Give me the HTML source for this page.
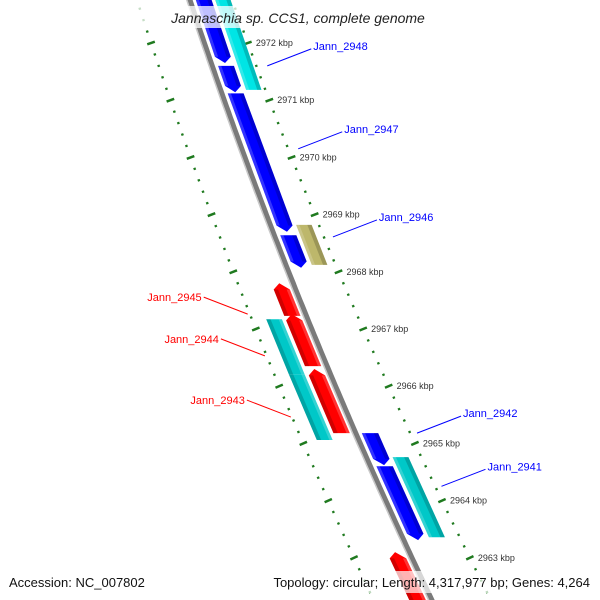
<!DOCTYPE html>
<html><head><meta charset="utf-8"><style>
html,body{margin:0;padding:0;background:#fff;width:600px;height:600px;overflow:hidden}
svg{display:block;font-family:"Liberation Sans",sans-serif}
</style></head><body>
<svg id="map" width="600" height="600" viewBox="0 0 600 600" xmlns="http://www.w3.org/2000/svg" overflow="hidden">
<g id="ticks"></g><g id="backbone"></g><g id="features"></g><g id="labels"></g>
<g>
<rect x="138" y="6" width="310" height="22" fill="#fff" opacity="0.75"/>
<text x="298" y="23" text-anchor="middle" font-style="italic" font-size="14" fill="#222">Jannaschia sp. CCS1, complete genome</text>
</g>
<g>
<rect x="0" y="571" width="600" height="22" fill="#fff" opacity="0.7"/>
<text x="9" y="587" font-size="13" fill="#111">Accession: NC_007802</text>
<text x="590" y="587" text-anchor="end" font-size="13" fill="#111">Topology: circular; Length: 4,317,977 bp; Genes: 4,264</text>
</g>
</svg>
<script>
// Data (positions in kbp)
const geneNames = ["orange-top","Jann_2949","Jann_2948a","Jann_2948","Jann_2947","Jann_2946b","Jann_2946","Jann_2945","Jann_2944r","Jann_2944","Jann_2943r","Jann_2943","Jann_2942","Jann_2941b","Jann_2941","red-bottom"];
const geneStart = [2972.95,2972.80,2971.60,2972.80,2971.12,2968.64,2968.82,2967.80,2967.26,2967.17,2966.30,2966.20,2965.18,2964.60,2964.76,2963.10];
const geneEnd   = [2972.66,2971.65,2971.14,2971.18,2968.70,2968.07,2968.12,2967.23,2966.35,2966.20,2965.18,2965.06,2964.62,2963.31,2963.36,2962.25];
const geneTrack = ["fo","fi","fi","fo","fi","fi","fo","ri","ri","ro","ri","ro","fi","fi","fo","ri"];
const geneColor = ["#ff8c00","#0000ff","#0000ff","#00e5e5","#0000ff","#0000ff","#bdb76b","#ff0000","#ff0000","#00c8c8","#ff0000","#00c8c8","#0000ff","#0000ff","#00c8c8","#ff0000"];
const geneArrow = [0,1,1,0,1,1,0,-1,-1,0,-1,0,1,1,0,-1];
const tickLabels = [2972,2971,2970,2969,2968,2967,2966,2965,2964,2963];
const labelNames = ["Jann_2948","Jann_2947","Jann_2946","Jann_2942","Jann_2941","Jann_2945","Jann_2944","Jann_2943"];
const labelPos = [2971.60,2970.15,2968.61,2965.18,2964.25,2967.26,2966.53,2965.46];
const labelSide = [1,1,1,1,1,-1,-1,-1];

const NS="http://www.w3.org/2000/svg";
function Y(p){return 43+(2972-p)*57.2;}
function cx(y){return 190+0.330*y+1.22e-4*y*y;}
function slope(y){return 0.330+2.44e-4*y;}
function pt(p,off){const y=Y(p);const n=Math.sqrt(1+slope(y)*slope(y));return [cx(y)+off*n,y];}
function mk(tag,attrs,parent){const e=document.createElementNS(NS,tag);for(const k in attrs)e.setAttribute(k,attrs[k]);parent.appendChild(e);return e;}
const trackOff={fi:[5.5,20.5],fo:[24,38.5],ri:[-5.5,-20.5],ro:[-24,-38.5]};

// backbone
const bb=document.getElementById('backbone');
let d="";for(let p=2973.8;p>=2961.4;p-=0.1){const q=pt(p,0);d+=(d?"L":"M")+q[0].toFixed(1)+","+q[1].toFixed(1);}
const bl=mk('path',{d:d,stroke:"#7a7a7a","stroke-width":5,fill:"none"},bb);


let d2="";for(let p=2973.8;p>=2961.4;p-=0.1){const q=pt(p,-3);d2+=(d2?"L":"M")+q[0].toFixed(1)+","+q[1].toFixed(1);}
mk('path',{d:d2,stroke:"#c8c8c8","stroke-width":1.5,fill:"none"},bb);

// ticks
function rightH(y){return 45+(y-100)*0.028;}
function leftH(y){return -53-y*0.009;}
const tg=document.getElementById('ticks');
[rightH,leftH].forEach(function(hf){
  for(let i=0;i<=70;i++){
    const p=2973.8-i*0.2;const major=Math.abs(p-Math.round(p))<0.01;
    const y=Y(p);const s=slope(y);const n=Math.sqrt(1+s*s);
    const x=cx(y)+hf(y);const L=major?4:1.2;
    const t=mk('line',{x1:x-L/n,y1:y+L*s/n,x2:x+L/n,y2:y-L*s/n,stroke:"#1f7a1f","stroke-width":major?2.5:2.2},tg);
    
    
  }
});
tickLabels.forEach(function(v){
  const y=Y(v);const x=cx(y)+rightH(y);
  const t=mk('text',{x:x+8,y:y+3,"font-size":9,fill:"#333"},tg);
  t.textContent=v+" kbp";
  
  
});

// features
const fg=document.getElementById('features');
geneNames.forEach(function(nm,i){
  const o=trackOff[geneTrack[i]];const a=geneArrow[i];
  const p1=geneStart[i],p2=geneEnd[i];const h=0.11;
  const pts=[];
  if(a===-1){const m=(o[0]+o[1])/2;pts.push(pt(p1,m));pts.push(pt(p1-h,o[1]));}else{pts.push(pt(p1,o[1]));}
  if(a===1){pts.push(pt(p2+h,o[1]));pts.push(pt(p2,(o[0]+o[1])/2));pts.push(pt(p2+h,o[0]));}else{pts.push(pt(p2,o[1]));pts.push(pt(p2,o[0]));}
  if(a===-1){pts.push(pt(p1-h,o[0]));}else{pts.push(pt(p1,o[0]));}
  const g=mk('g',{},fg);
  
  
  mk('polygon',{points:pts.map(q=>q.join(",")).join(" "),fill:geneColor[i]},g);
  const sgn=o[1]>0?1:-1;const inner=o[0]+sgn*3;const outer=o[1]-sgn*4;
  const ta=p1-(a===-1?h:0),tb=p2+(a===1?h:0);
  mk('polygon',{points:[pt(ta,outer),pt(tb,outer),pt(tb,o[1]),pt(ta,o[1])].map(q=>q.join(",")).join(" "),fill:"#000",opacity:0.18},g);
  mk('polygon',{points:[pt(ta,o[0]),pt(tb,o[0]),pt(tb,inner),pt(ta,inner)].map(q=>q.join(",")).join(" "),fill:"#fff",opacity:0.2},g);
});

// labels
const lg=document.getElementById('labels');
labelNames.forEach(function(nm,i){
  const s=labelSide[i];const col=s>0?"#0000ff":"#ff0000";
  const y=Y(labelPos[i]);
  const a=[cx(y)+(s>0?55+(y-66)*0.017:-58),y];
  const b=[a[0]+44*s,a[1]-17];
  const g=mk('g',{},lg);
  
  
  mk('line',{x1:a[0],y1:a[1],x2:b[0],y2:b[1],stroke:col,"stroke-width":1},g);
  const t=mk('text',{x:b[0]+2*s,y:s>0?b[1]+1:b[1]+4,"font-size":11,fill:col,"text-anchor":s>0?"start":"end"},g);
  t.textContent=nm;
});
</script>
</body></html>
